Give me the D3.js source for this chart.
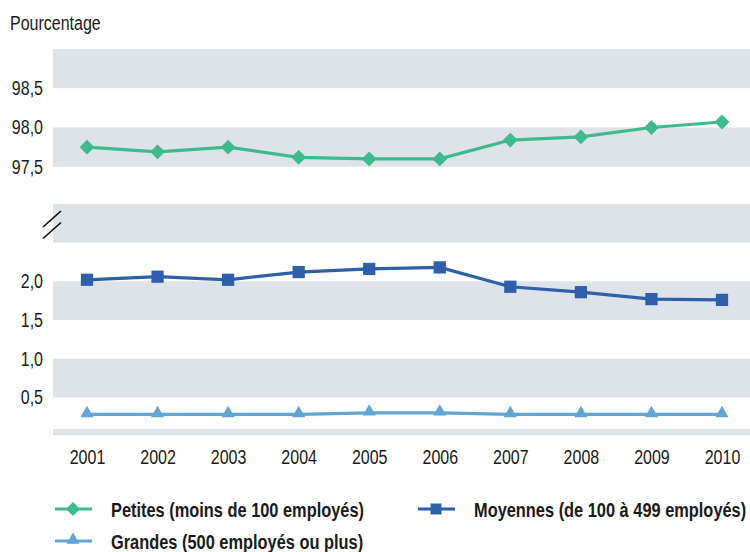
<!DOCTYPE html>
<html><head><meta charset="utf-8">
<script src="https://cdn.jsdelivr.net/npm/d3@7"></script>
<style>
body{margin:0;background:#fff}
svg{display:block}
text{font-family:'Liberation Sans',Arial,sans-serif;fill:#1a1a1a}
</style>
</head><body><svg id="c" width="750" height="552"></svg>
<script>
const years = ["2001","2002","2003","2004","2005","2006","2007","2008","2009","2010"];
const petites  = [97.75, 97.69, 97.75, 97.62, 97.60, 97.60, 97.84, 97.88, 98.00, 98.07];
const moyennes = [2.02, 2.06, 2.02, 2.12, 2.16, 2.18, 1.93, 1.86, 1.77, 1.76];
const grandes  = [0.28, 0.28, 0.28, 0.28, 0.30, 0.30, 0.28, 0.28, 0.28, 0.28];
const upperTicks = [98.5, 98.0, 97.5];
const lowerTicks = [2.0, 1.5, 1.0, 0.5];
const upperBands = [[97.5, 98.0], [98.5, 99.0]];
const lowerBands = [[0.5, 1.0], [1.5, 2.0], [2.5, 3.0], [0.01, 0.09]];
const seriesNames = ["Petites (moins de 100 employés)", "Moyennes (de 100 à 499 employés)", "Grandes (500 employés ou plus)"];
const colors = ["#3fba8f", "#2d5fab", "#62a5d5"];
const yTitle = "Pourcentage";

const NARROW = 0.8;
const LEG_NARROW = 0.78;
const svg = d3.select("#c");
const left = 53, right = 750;
const x = d3.scalePoint().domain(years).range([87, 722]);
const yU = d3.scaleLinear().domain([97, 99]).range([206, 49]);
const yL = d3.scaleLinear().domain([0, 3]).range([436, 204]);
const bandColor = "#dde3e9";
const fmt = d => d3.format(".1f")(d).replace(".", ",");

// bands
svg.append("g").selectAll("rect").data(upperBands).join("rect")
  .attr("x", left).attr("width", right - left)
  .attr("y", d => yU(d[1])).attr("height", d => yU(d[0]) - yU(d[1]))
  .attr("fill", bandColor);
svg.append("g").selectAll("rect").data(lowerBands).join("rect")
  .attr("x", left).attr("width", right - left)
  .attr("y", d => yL(d[1])).attr("height", d => yL(d[0]) - yL(d[1]))
  .attr("fill", bandColor);

// axes
function styleAxis(g){
  g.select(".domain").remove();
  g.selectAll("line").remove();
  g.selectAll("text").attr("font-size", 20).attr("fill", "#1a1a1a")
   .attr("transform", `scale(${NARROW},1)`)
   .style("font-family", "'Liberation Sans',Arial,sans-serif");
}
svg.append("g").attr("transform", `translate(${left},0)`)
  .call(d3.axisLeft(yU).tickValues(upperTicks).tickFormat(fmt).tickSize(0).tickPadding(10 / NARROW))
  .call(styleAxis);
svg.append("g").attr("transform", `translate(${left},0)`)
  .call(d3.axisLeft(yL).tickValues(lowerTicks).tickFormat(fmt).tickSize(0).tickPadding(10 / NARROW))
  .call(styleAxis);
svg.append("g").attr("transform", `translate(0,440)`)
  .call(d3.axisBottom(x).tickSize(0).tickPadding(9.5))
  .call(styleAxis);

function narrowText(parent, tx, ty, str, size, weight, k){
  return parent.append("text")
    .attr("transform", `translate(${tx},${ty}) scale(${k || NARROW},1)`)
    .attr("font-size", size).attr("font-weight", weight || "normal").text(str);
}

// title
narrowText(svg, 10, 29.5, yTitle, 20);

// break marks
const brk = svg.append("g").attr("stroke", "#111").attr("stroke-width", 1.6);
[0, 11.5].forEach(o => {
  brk.append("line").attr("x1", 43).attr("y1", 227 + o).attr("x2", 61).attr("y2", 211 + o);
});

// series
const series = [
  {vals: petites, y: yU, shape: d3.symbolSquare, size: 110, rot: 45},
  {vals: moyennes, y: yL, shape: d3.symbolSquare, size: 150, rot: 0},
  {vals: grandes, y: yL, shape: d3.symbolTriangle, size: 75, rot: 0}
];
series.forEach((s, i) => {
  const data = years.map((yr, j) => [yr, s.vals[j]]);
  svg.append("path").datum(data)
    .attr("fill", "none").attr("stroke", colors[i]).attr("stroke-width", 3.2)
    .attr("d", d3.line().x(d => x(d[0])).y(d => s.y(d[1])));
  svg.append("g").selectAll("path").data(data).join("path")
    .attr("transform", d => `translate(${x(d[0])},${s.y(d[1]) + (s.shape === d3.symbolTriangle ? -1 : 0)}) rotate(${s.rot})`)
    .attr("d", d3.symbol(s.shape).size(s.size))
    .attr("fill", colors[i]);
});

// legend
const legendItems = [
  {i: 0, lx: 55, ly: 509, tx: 111},
  {i: 1, lx: 418, ly: 509, tx: 474},
  {i: 2, lx: 55, ly: 541, tx: 111}
];
const lsizes = [100, 120, 72];
legendItems.forEach(L => {
  const g = svg.append("g");
  const s = series[L.i];
  g.append("line").attr("x1", L.lx).attr("x2", L.lx + 37).attr("y1", L.ly).attr("y2", L.ly)
    .attr("stroke", colors[L.i]).attr("stroke-width", 3.2);
  g.append("path").attr("transform", `translate(${L.lx + 18},${L.ly + (s.shape === d3.symbolTriangle ? -1 : 0)}) rotate(${s.rot})`)
    .attr("d", d3.symbol(s.shape).size(lsizes[L.i])).attr("fill", colors[L.i]);
  narrowText(g, L.tx, L.ly + 7.5, seriesNames[L.i], 21, "bold", LEG_NARROW);
});
</script>
</body></html>
